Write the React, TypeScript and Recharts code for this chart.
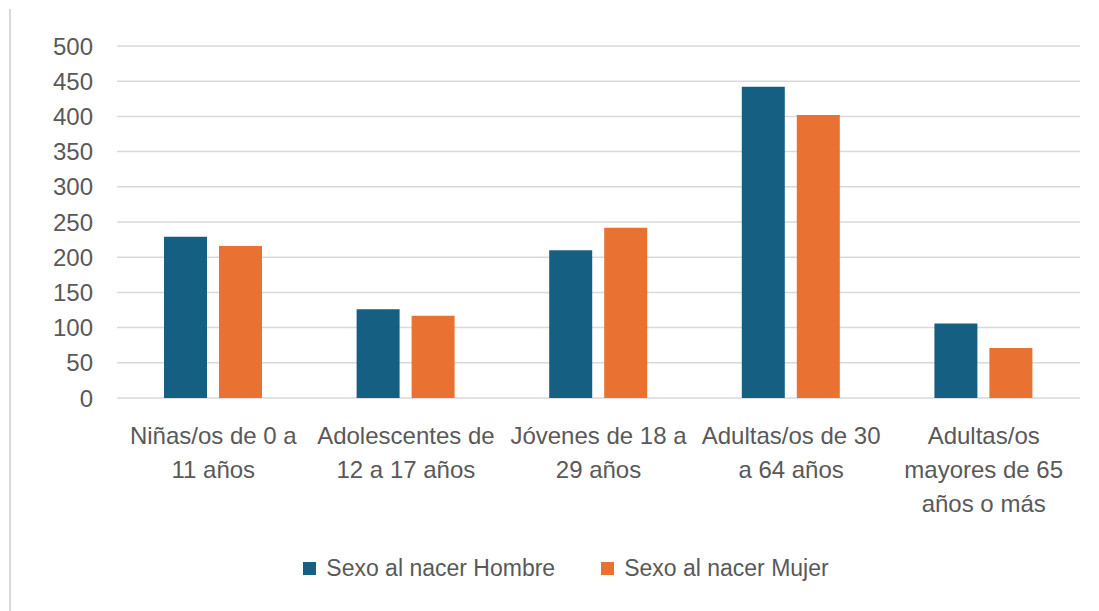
import { BarChart, Bar, XAxis, YAxis, CartesianGrid, Legend } from "recharts"

const categories = [
    "Niñas/os de 0 a 11 años",
    "Adolescentes de 12 a 17 años",
    "Jóvenes de 18 a 29 años",
    "Adultas/os de 30 a 64 años",
    "Adultas/os mayores de 65 años o más",
]
const categoryLines = [
    ["Niñas/os de 0 a", "11 años"],
    ["Adolescentes de", "12 a 17 años"],
    ["Jóvenes de 18 a", "29 años"],
    ["Adultas/os de 30", "a 64 años"],
    ["Adultas/os", "mayores de 65", "años o más"],
]
const hombre = [229, 126, 210, 442, 106]
const mujer = [216, 117, 242, 402, 71]
const yTicks = [0, 50, 100, 150, 200, 250, 300, 350, 400, 450, 500]

const BLUE = "#156082"
const ORANGE = "#E97132"
const TEXT = "#595959"
const FONT = "'Liberation Sans', Arial, sans-serif"

const data = categories.map((c, i) => ({ name: c, hombre: hombre[i], mujer: mujer[i] }))

function CategoryTick({ x, y, payload }: any) {
    const lines = categoryLines[payload.index] || [payload.value]
    return (
        <text x={x} y={y} textAnchor="middle" fill={TEXT} fontSize={24} fontFamily={FONT}>
            {lines.map((l, i) => (
                <tspan key={i} x={x} dy={i === 0 ? 46 : 34}>{l}</tspan>
            ))}
        </text>
    )
}

function LegendBox({ payload }: any) {
    return (
        <div style={{ display: "flex", justifyContent: "center", paddingLeft: 22, fontFamily: FONT, fontSize: 23, color: TEXT, lineHeight: "26px" }}>
            {(payload || []).map((p: any, i: number) => (
                <div key={i} style={{ display: "flex", alignItems: "center", marginRight: i === 0 ? 46 : 0 }}>
                    <span style={{ width: 13, height: 13, background: p.color, display: "inline-block", marginRight: 10 }} />
                    <span>{p.value}</span>
                </div>
            ))}
        </div>
    )
}

export default function App() {
    return (
        <div style={{ marginLeft: 1, marginTop: 1, borderLeft: "2px solid #d9d9d9", height: 602, width: 1088 }}>
            <BarChart width={1088} height={602} data={data} margin={{ top: 37, right: 19, left: 0, bottom: 0 }} barGap={12}>
                <CartesianGrid vertical={false} stroke="#d9d9d9" strokeWidth={1.5} />
                <XAxis dataKey="name" axisLine={false} tickLine={false} tickSize={0} tickMargin={0} height={153} interval={0} tick={<CategoryTick />} />
                <YAxis domain={[0, 500]} ticks={yTicks} width={106} axisLine={false} tickLine={false} tickSize={0} tickMargin={24}
                    tick={{ fill: TEXT, fontSize: 24, fontFamily: FONT }} interval={0} />
                <Legend verticalAlign="bottom" height={60} wrapperStyle={{ top: 546, left: 0, width: 1088 }} content={<LegendBox />} />
                <Bar dataKey="hombre" name="Sexo al nacer Hombre" fill={BLUE} barSize={43} isAnimationActive={false} />
                <Bar dataKey="mujer" name="Sexo al nacer Mujer" fill={ORANGE} barSize={43} isAnimationActive={false} />
            </BarChart>
        </div>
    )
}
